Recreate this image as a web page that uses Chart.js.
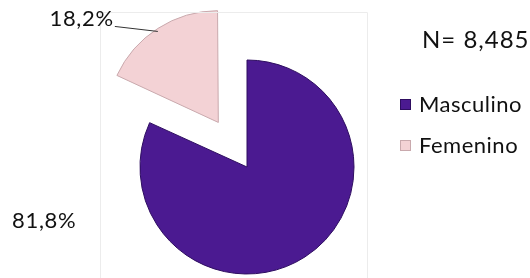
<!DOCTYPE html>
<html>

<head>
    <title>Sexo</title>
    <script src="https://cdn.jsdelivr.net/npm/chart.js"></script>
    <style>
        body {
            margin: 0;
            background: #fff;
        }
    </style>
</head>

<body>
    <canvas id="pieChart" width="530" height="278"></canvas>

    <script>
        const categories = ["Masculino", "Femenino"];
        const values = [81.8, 18.2];
        const valueLabels = ["81,8%", "18,2%"];
        const totalN = "8,485";
        const colors = ["#4b1a91", "#f3d2d5"];
        const borders = ["#2e0d60", "#c9a9ad"];

        const FONT = "Lato, 'Open Sans', sans-serif";

        // frame, percentage labels, N and legend
        const labelPlugin = {
            id: "labelPlugin",
            afterDatasetsDraw(chart) {
                const ctx = chart.ctx;
                const arcs = chart.getDatasetMeta(0).data;
                ctx.save();

                // faint plot-area frame
                ctx.strokeStyle = "#ececec";
                ctx.lineWidth = 1;
                ctx.beginPath();
                ctx.moveTo(100.5, 278);
                ctx.lineTo(100.5, 12.5);
                ctx.lineTo(367.5, 12.5);
                ctx.lineTo(367.5, 278);
                ctx.stroke();

                ctx.fillStyle = "#111";
                ctx.textBaseline = "alphabetic";
                ctx.letterSpacing = "0.7px";

                // Femenino: leader line from the (exploded) arc edge
                const f = arcs[1];
                const mid = (f.startAngle + f.endAngle) / 2;
                const off = (f.options.offset || 0) / 4;   // chart.js v4 draws offset/4
                const fix = 1 - Math.sin(Math.min(Math.PI, f.circumference));
                const r = f.outerRadius + off * fix;
                const ex = f.x + Math.cos(mid) * (off + r);
                const ey = f.y + Math.sin(mid) * (off + r);
                ctx.strokeStyle = "#333";
                ctx.beginPath();
                ctx.moveTo(ex, ey + 3);
                ctx.lineTo(ex - 43, ey - 2);
                ctx.stroke();
                ctx.font = "22px " + FONT;
                ctx.textAlign = "right";
                ctx.fillText(valueLabels[1], ex - 44, ey - 2);

                // Masculino label, far left
                const m = arcs[0];
                ctx.textAlign = "left";
                ctx.fillText(valueLabels[0], m.x - 235, m.y + 61);

                // N
                ctx.font = "24px " + FONT;
                ctx.letterSpacing = "1px";
                ctx.fillText("N= " + totalN, 422, 48);

                // legend
                ctx.font = "22px " + FONT;
                ctx.letterSpacing = "0.5px";
                categories.forEach((c, i) => {
                    const base = 112 + i * 41;
                    ctx.fillStyle = colors[i];
                    ctx.strokeStyle = borders[i];
                    ctx.fillRect(400, base - 13, 11, 11);
                    ctx.strokeRect(400.5, base - 12.5, 10, 10);
                    ctx.fillStyle = "#111";
                    ctx.fillText(c, 419, base);
                });

                ctx.restore();
            }
        };

        const ctx = document.getElementById("pieChart").getContext("2d");
        new Chart(ctx, {
            type: "pie",
            data: {
                labels: categories,
                datasets: [{
                    data: values,
                    backgroundColor: colors,
                    borderColor: borders,
                    borderWidth: 1,
                    offset: [0, 212],
                    clip: false
                }]
            },
            options: {
                responsive: false,
                animation: false,
                radius: 107,
                layout: { padding: { left: 0, right: 36, top: 56, bottom: 0 } },
                plugins: {
                    legend: { display: false },
                    tooltip: { enabled: false }
                }
            },
            plugins: [labelPlugin]
        });
    </script>
</body>

</html>
